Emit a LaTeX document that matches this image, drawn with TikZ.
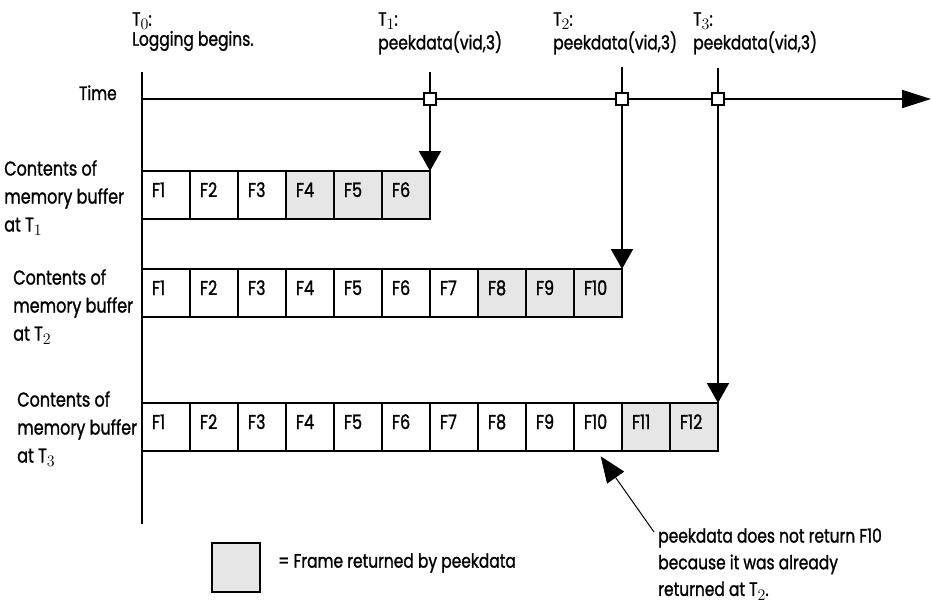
\documentclass[tikz,border=0pt]{standalone}
\usepackage[no-math]{fontspec}
\setmainfont{Poppins}[FakeStretch=0.8, FakeBold=1.2]
\usetikzlibrary{arrows.meta}
\definecolor{grisclair}{RGB}{230,230,230}
\newcommand{\idx}[1]{\raisebox{-0.22em}{\fontsize{11.5}{12}\selectfont$#1$}}

\tikzset{
  trait/.style={line width=1.5pt},
  case/.style={trait, draw, anchor=north west, outer sep=0pt,
    minimum height=36pt, inner xsep=7.5pt, inner ysep=0pt,
    text width=21pt, text height=19.5pt, text depth=16.5pt, align=left,
    font=\fontsize{15}{17}\selectfont},
  rendu/.style={case, fill=grisclair},
  repere/.style={trait, draw, fill=white, minimum size=8.5pt, inner sep=0pt},
  etiquette/.style={anchor=north west, align=left, inner sep=0pt,
    font=\fontsize{15}{21}\selectfont},
  titre/.style={anchor=north west, align=left, inner sep=0pt,
    font=\fontsize{14.5}{15}\selectfont},
  fleche/.style={trait, -{Triangle[length=15pt,width=16.5pt]}},
}

\begin{document}
\begin{tikzpicture}[x=0.75pt, y=-0.75pt]
  \useasboundingbox (0,0) rectangle (932,611);

  % Axes
  \coordinate (haut) at (142,72);
  \coordinate (bas) at (142,524);
  \coordinate (origine) at (142,99);
  \coordinate (fin) at (931,99);
  \draw[trait] (haut) -- (bas);
  \draw[trait, -{Triangle[length=21.75pt,width=13.5pt]}] (origine) -- (fin);
  \node[titre, anchor=base east] (temps) at (117,100) {Time};

  % Contenu du buffer
  \foreach \n in {1,...,3} \node[case] (a\n) at ({142+48*(\n-1)},171) {F\n};
  \foreach \n in {4,...,6} \node[rendu] (a\n) at ({142+48*(\n-1)},171) {F\n};
  \foreach \n in {1,...,7} \node[case] (b\n) at ({142+48*(\n-1)},269) {F\n};
  \foreach \n in {8,...,10} \node[rendu] (b\n) at ({142+48*(\n-1)},269) {F\n};
  \foreach \n in {1,...,10} \node[case] (c\n) at ({142+48*(\n-1)},403) {F\n};
  \foreach \n in {11,12} \node[rendu] (c\n) at ({142+48*(\n-1)},403) {F\n};

  \node[etiquette] (e1) at (4,160) {Contents of\\memory buffer\\at T\idx{1}};
  \node[etiquette] (e2) at (13,269) {Contents of\\memory buffer\\at T\idx{2}};
  \node[etiquette] (e3) at (17,391) {Contents of\\memory buffer\\at T\idx{3}};

  % Instants T0 ... T3
  \coordinate (h1) at (430,72);
  \coordinate (h2) at (622,67);
  \coordinate (h3) at (718,68);
  \draw[fleche] (h1) -- (a6.north east);
  \draw[fleche] (h2) -- (b10.north east);
  \draw[fleche] (h3) -- (c12.north east);
  \node[repere] (m1) at (h1 |- origine) {};
  \node[repere] (m2) at (h2 |- origine) {};
  \node[repere] (m3) at (h3 |- origine) {};

  \node[titre] (t0) at (132,12) {T\idx{0}:\\Logging begins.};
  \node[titre] (t1) at (378,12) {T\idx{1}:\\peekdata(vid,3)};
  \node[titre] (t2) at (553,12) {T\idx{2}:\\peekdata(vid,3)};
  \node[titre] (t3) at (693,12) {T\idx{3}:\\peekdata(vid,3)};

  % Legende
  \node[trait, draw, fill=grisclair, anchor=north west, outer sep=0pt,
    minimum width=36pt, minimum height=36.75pt] (cle) at (212,543) {};
  \node[titre, anchor=west] (cletexte) at (278,563) {= Frame returned by peekdata};

  % Remarque sur F10
  \node[etiquette, font=\fontsize{14.5}{20}\selectfont] (note) at (658,528)
    {peekdata does not return F10\\because it was already\\returned at T\idx{2}.};
  \draw[line width=0.75pt, -{Triangle[length=19.5pt,width=15.5pt]}]
    ([xshift=-3pt,yshift=-3pt]note.north west) -- ([xshift=2pt,yshift=-4pt]c10.south);
\end{tikzpicture}
\end{document}
